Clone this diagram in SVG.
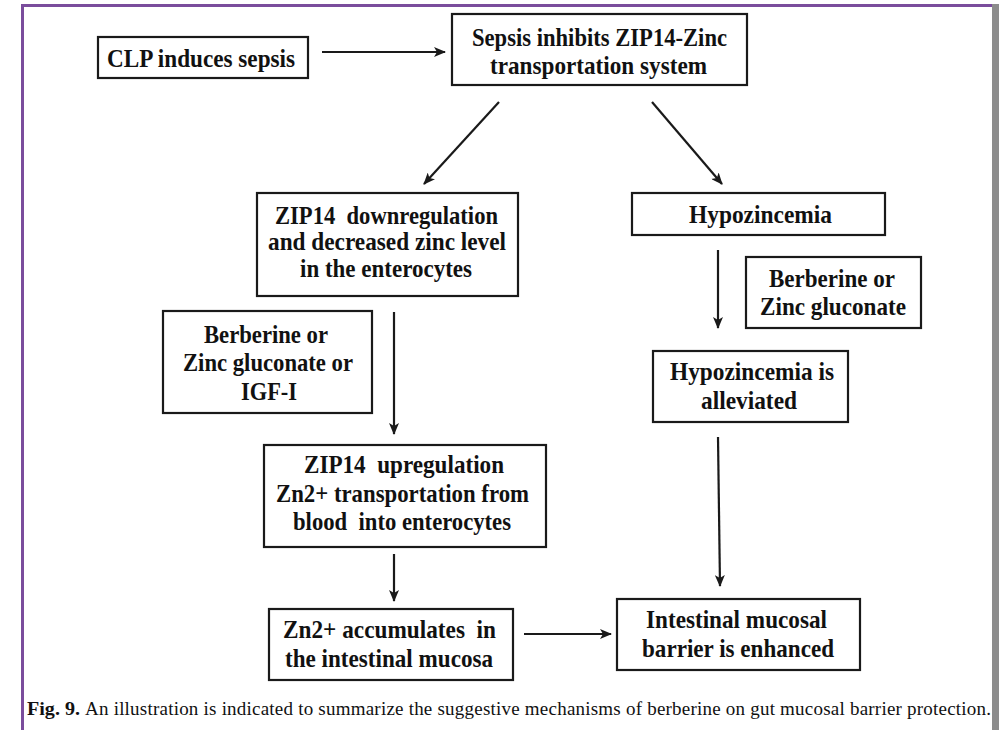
<svg xmlns="http://www.w3.org/2000/svg" width="1008" height="730" viewBox="0 0 1008 730">
<defs>
<style>
.box{fill:#fff;stroke:#1a1a1a;stroke-width:2.2}
.t{font-family:"Liberation Serif","Times New Roman",serif;font-weight:bold;font-size:26px;fill:#111}
.s{font-size:24.5px}
.c{font-family:"Liberation Serif","Times New Roman",serif;font-size:19px;fill:#111}
.ln{stroke:#1a1a1a;stroke-width:2.2;fill:none;marker-end:url(#ah)}
</style>
<marker id="ah" markerUnits="userSpaceOnUse" markerWidth="12" markerHeight="10" refX="11" refY="5" orient="auto">
<path d="M0,0 L12,5 L0,10 L3,5 z" fill="#1a1a1a"/>
</marker>
</defs>
<rect x="0" y="0" width="1008" height="730" fill="#fff"/>
<g id="frame">
<rect x="21" y="4" width="972" height="3" fill="#7a4d9c"/>
<rect x="21" y="4" width="3" height="726" fill="#7a4d9c"/>
<rect x="992" y="4" width="7" height="726" fill="#8c8c8c"/>
</g>
<g id="connectors">
<line class="ln" x1="322" y1="52" x2="445" y2="52"/>
<line class="ln" x1="499" y1="102" x2="424" y2="184"/>
<line class="ln" x1="652" y1="102" x2="722" y2="184"/>
<line class="ln" x1="394" y1="312" x2="394" y2="434"/>
<line class="ln" x1="394" y1="554" x2="394" y2="601"/>
<line class="ln" x1="718" y1="250" x2="718" y2="328"/>
<line class="ln" x1="718" y1="437" x2="720" y2="586"/>
<line class="ln" x1="524" y1="634" x2="611" y2="634"/>
</g>
<g id="n1">
<rect class="box" x="98" y="37" width="210" height="41"/>
<text class="t" x="107" y="67" textLength="188" lengthAdjust="spacingAndGlyphs">CLP induces sepsis</text>
</g>
<g id="n2">
<rect class="box" x="452" y="14" width="295" height="71"/>
<text class="t" x="472" y="46" textLength="255" lengthAdjust="spacingAndGlyphs">Sepsis inhibits ZIP14-Zinc</text>
<text class="t" x="490" y="74" textLength="217" lengthAdjust="spacingAndGlyphs">transportation system</text>
</g>
<g id="n3">
<rect class="box" x="257" y="193" width="261" height="103"/>
<text class="t s" x="275" y="224" textLength="223" lengthAdjust="spacingAndGlyphs" xml:space="preserve">ZIP14  downregulation</text>
<text class="t s" x="268" y="250" textLength="238" lengthAdjust="spacingAndGlyphs">and decreased zinc level</text>
<text class="t s" x="300" y="277" textLength="172" lengthAdjust="spacingAndGlyphs">in the enterocytes</text>
</g>
<g id="n4">
<rect class="box" x="632" y="193" width="253" height="42"/>
<text class="t" x="689" y="223" textLength="143" lengthAdjust="spacingAndGlyphs">Hypozincemia</text>
</g>
<g id="n5">
<rect class="box" x="163" y="311" width="209" height="102"/>
<text class="t" x="204" y="343" textLength="124" lengthAdjust="spacingAndGlyphs">Berberine or</text>
<text class="t" x="183" y="371" textLength="170" lengthAdjust="spacingAndGlyphs">Zinc gluconate or</text>
<text class="t" x="241" y="400" textLength="56" lengthAdjust="spacingAndGlyphs">IGF-I</text>
</g>
<g id="n6">
<rect class="box" x="746" y="257" width="175" height="71"/>
<text class="t" x="769" y="287" textLength="126" lengthAdjust="spacingAndGlyphs">Berberine or</text>
<text class="t" x="760" y="315" textLength="146" lengthAdjust="spacingAndGlyphs">Zinc gluconate</text>
</g>
<g id="n7">
<rect class="box" x="653" y="351" width="195" height="71"/>
<text class="t" x="670" y="380" textLength="164" lengthAdjust="spacingAndGlyphs">Hypozincemia is</text>
<text class="t" x="701" y="409" textLength="96" lengthAdjust="spacingAndGlyphs">alleviated</text>
</g>
<g id="n8">
<rect class="box" x="264" y="445" width="282" height="102"/>
<text class="t" x="304" y="473" textLength="200" lengthAdjust="spacingAndGlyphs" xml:space="preserve">ZIP14  upregulation</text>
<text class="t" x="276" y="502" textLength="253" lengthAdjust="spacingAndGlyphs">Zn2+ transportation from</text>
<text class="t" x="293" y="530" textLength="218" lengthAdjust="spacingAndGlyphs" xml:space="preserve">blood  into enterocytes</text>
</g>
<g id="n9">
<rect class="box" x="269" y="609" width="244" height="71"/>
<text class="t" x="283" y="638" textLength="213" lengthAdjust="spacingAndGlyphs" xml:space="preserve">Zn2+ accumulates  in</text>
<text class="t" x="285" y="667" textLength="208" lengthAdjust="spacingAndGlyphs">the intestinal mucosa</text>
</g>
<g id="n10">
<rect class="box" x="617" y="599" width="243" height="71"/>
<text class="t" x="646" y="628" textLength="181" lengthAdjust="spacingAndGlyphs">Intestinal mucosal</text>
<text class="t" x="642" y="657" textLength="192" lengthAdjust="spacingAndGlyphs">barrier is enhanced</text>
</g>
<g id="caption">
<text class="c" x="27" y="715" font-weight="bold" textLength="53" lengthAdjust="spacingAndGlyphs">Fig. 9.</text>
<text class="c" x="85" y="715" textLength="906" lengthAdjust="spacing">An illustration is indicated to summarize the suggestive mechanisms of berberine on gut mucosal barrier protection.</text>
</g>
</svg>
